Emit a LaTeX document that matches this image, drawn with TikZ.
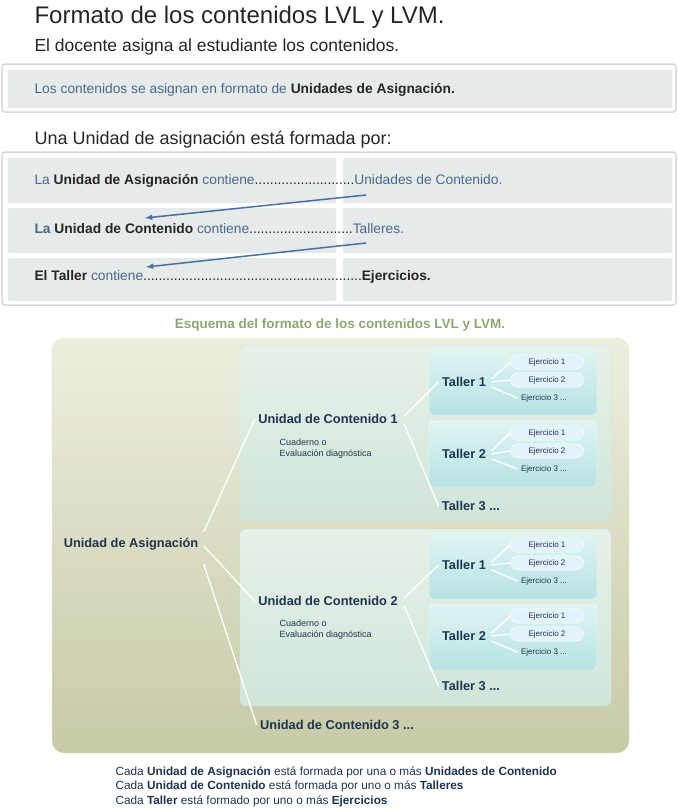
\documentclass[tikz,border=0pt]{standalone}
\usepackage{fontspec}
\setmainfont{Liberation Sans}
\usetikzlibrary{positioning}
\definecolor{txtblue}{HTML}{4A6A8A}
\definecolor{arrblue}{HTML}{4A6FA5}
\definecolor{cellgray}{HTML}{E6EAEA}
\definecolor{navy}{HTML}{1E3550}
\definecolor{capgreen}{HTML}{8AA870}
\definecolor{olivetop}{HTML}{EEEEDF}
\definecolor{olivebot}{HTML}{C7CAA6}
\definecolor{unittop}{HTML}{E8F1E8}
\definecolor{unitbot}{HTML}{CFE5DA}
\definecolor{talltop}{HTML}{E0F4F3}
\definecolor{tallbot}{HTML}{B5E3E2}
\definecolor{pillfill}{HTML}{E2F3FB}
\begin{document}
\begin{tikzpicture}[x=1pt,y=-1pt,
        % Styles
        frame/.style={% outer frames
            draw=black!15, line width=1.5pt, rounded corners=3pt
            },
        cell/.style={% gray cells
            fill=cellgray, rounded corners=2pt
            },
        rowtext/.style={% row texts
            anchor=west, font=\fontsize{13.8}{16}\selectfont, text=txtblue
            },
        link/.style={% blue arrows
            draw=arrblue, line width=1.5pt, -latex
            },
        unit/.style={% teal boxes
            rounded corners=6pt, draw=white!80!teal, top color=unittop, bottom color=unitbot
            },
        taller/.style={% taller boxes
            rounded corners=4pt, draw=white, top color=talltop, bottom color=tallbot
            },
        pill/.style={% ejercicio pills
            rounded corners=7pt, draw=white, fill=pillfill, minimum width=73pt,
            minimum height=14pt, font=\fontsize{8}{9}\selectfont, text=navy
            },
        ejer/.style={font=\fontsize{8}{9}\selectfont, text=navy},
        lbl/.style={font=\bfseries\fontsize{12.8}{14}\selectfont, text=navy},
        note/.style={font=\fontsize{9}{11}\selectfont, text=navy, align=left, anchor=north west},
        branch/.style={draw=white, line width=1.3pt},
        ]
    \useasboundingbox (0,0) rectangle (678,811);

    % Header
    \node[anchor=west, font=\fontsize{24}{26}\selectfont, text=black!85] (title) at (31,17) {Formato de los contenidos LVL y LVM.};
    \node[anchor=west, font=\fontsize{17.5}{20}\selectfont, text=black!85] (sub) at (31,47) {El docente asigna al estudiante los contenidos.};
    \draw[frame] (2,64) rectangle (676,112);
    \fill[cell] (8,70) rectangle (672,108);
    \node[rowtext] (intro) at (31,90) {Los contenidos se asignan en formato de \textbf{\color{black!85}Unidades de Asignación.}};

    % Table
    \node[anchor=west, font=\fontsize{18}{20}\selectfont, text=black!85] (sub2) at (31,140) {Una Unidad de asignación está formada por:};
    \draw[frame] (2,152) rectangle (676,305);
    \foreach \t/\b in {158/203, 208/253, 258/301}{
        \fill[cell] (8,\t) rectangle (336,\b);
        \fill[cell] (343,\t) rectangle (672,\b);
    }
    \node[rowtext] (row1) at (31,181) {La \textbf{\color{black!85}Unidad de Asignación} contiene{\color{black!85}..........................}Unidades de Contenido.};
    \node[rowtext] (row2) at (31,229) {\textbf{La \color{black!85}Unidad de Contenido} contiene{\color{black!85}...........................}Talleres.};
    \node[rowtext] (row3) at (31,277) {\textbf{\color{black!85}El Taller} contiene{\color{black!85}.........................................................\textbf{Ejercicios.}}};
    \coordinate (a1s) at (366,195);
    \coordinate (a1e) at (145,218);
    \coordinate (a2s) at (366,243);
    \coordinate (a2e) at (146,267);
    \draw[link] (a1s) -- (a1e);
    \draw[link] (a2s) -- (a2e);

    % Scheme
    \node[font=\bfseries\fontsize{13.5}{15}\selectfont, text=capgreen] (cap) at (340,325) {Esquema del formato de los contenidos LVL y LVM.};
    \draw[rounded corners=12pt, draw=white!80!olive, top color=olivetop, bottom color=olivebot] (52,338) rectangle (629,753);
    \draw[unit] (240,345) rectangle (611,521);
    \draw[unit] (240,529) rectangle (611,706);
    \foreach \t in {349, 421, 533, 604}{
        \draw[taller] (429,\t) rectangle (597,\t+66);
    }

    \node[lbl] (ua) at (131,544) {Unidad de Asignación};
    \node[lbl] (uc1) at (328,419) {Unidad de Contenido 1};
    \node[note] (cu1) at (276,435) {Cuaderno o\\Evaluación diagnóstica};
    \node[lbl] (uc2) at (328,601) {Unidad de Contenido 2};
    \node[note] (cu2) at (276,616) {Cuaderno o\\Evaluación diagnóstica};
    \node[lbl] (uc3) at (337,725) {Unidad de Contenido 3 ...};

    \node[lbl] (t1) at (464,382) {Taller 1};
    \node[lbl] (t2) at (464,454) {Taller 2};
    \node[lbl] (t3) at (471,506) {Taller 3 ...};
    \node[lbl] (t4) at (464,565) {Taller 1};
    \node[lbl] (t5) at (464,636) {Taller 2};
    \node[lbl] (t6) at (471,686) {Taller 3 ...};

    % Ejercicios
    \foreach \tl/\y in {t1/362, t2/433, t4/545, t5/616}{
        \node[pill] (\tl e1) at (547,\y) {Ejercicio 1};
        \node[pill] (\tl e2) at (547,\y+18) {Ejercicio 2};
        \node[ejer] (\tl e3) at (544,\y+36) {Ejercicio 3 ...};
        \draw[branch] (\tl.east) ++(2,-3) -- (\tl e1.west);
        \draw[branch] (\tl.east) ++(2,0) -- (\tl e2.west);
        \draw[branch] (\tl.east) ++(2,5) -- (\tl e3.west);
    }

    % Branches
    \draw[branch] (ua.east) ++(2,-12) -- (uc1.west);
    \draw[branch] (ua.east) ++(2,2) -- (uc2.west);
    \draw[branch] (ua.east) ++(2,20) -- (uc3.west);
    \draw[branch] (uc1.east) ++(3,-3) -- (t1.west);
    \draw[branch] (uc1.east) ++(3,5) -- (t3.west);
    \draw[branch] (uc2.east) ++(3,-3) -- (t4.west);
    \draw[branch] (uc2.east) ++(3,5) -- (t6.west);

    % Footer
    \node[note, font=\fontsize{11.8}{14.5}\selectfont] (f1) at (112,763) {Cada \textbf{Unidad de Asignación} está formada por una o más \textbf{Unidades de Contenido}\\
        Cada \textbf{Unidad de Contenido} está formada por uno o más \textbf{Talleres}\\
        Cada \textbf{Taller} está formado por uno o más \textbf{Ejercicios}};
\end{tikzpicture}
\end{document}
